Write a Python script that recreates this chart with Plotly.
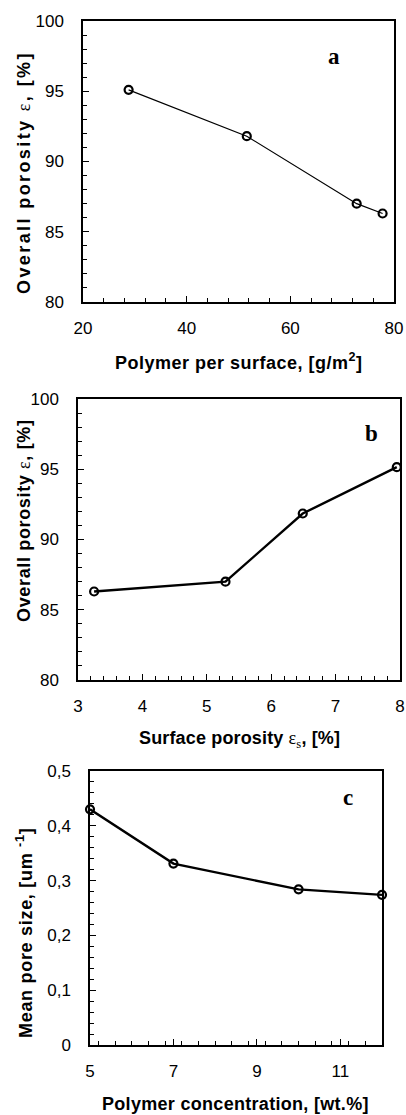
import plotly.graph_objects as go

# Panel a
a_x = [28.8, 51.6, 72.8, 77.8]
a_y = [95.1, 91.8, 87.0, 86.3]
# Panel b
b_x = [3.25, 5.29, 6.49, 7.95]
b_y = [86.3, 87.0, 91.85, 95.15]
# Panel c
c_x = [5, 7, 10, 12]
c_y = [0.43, 0.331, 0.284, 0.274]

W, H = 406, 1115
FONT = "Liberation Sans, Arial, sans-serif"
SERIF = "Liberation Serif, Times New Roman, serif"

fig = go.Figure()

def px_dom_x(l, r):
    return [l / W, r / W]

def px_dom_y(t, b):
    return [1 - b / H, 1 - t / H]

eps = "<span style='font-family:Liberation Serif;font-weight:normal'>ε</span>"
panels = [
    dict(x=a_x, y=a_y, lw=1.2, xl=83, xr_=394, yt_=21, yb=302,
         xr=[20, 80], xdt=20, xmin=4, yr=[80, 100], ydt=5, ymin=1,
         xt="Polymer per surface, [g/m<sup>2</sup>]", xls=0.5,
         yt="Overall porosity " + eps + ", [%]", ytc=173, yls=2.4,
         lab="a", lx=334, ly=56),
    dict(x=b_x, y=b_y, lw=2.4, xl=78, xr_=400, yt_=399, yb=680,
         xr=[3, 8], xdt=1, xmin=0.2, yr=[80, 100], ydt=5, ymin=1,
         xt="Surface porosity " + "<span style='font-family:Liberation Serif;font-weight:normal'>ε<sub>s</sub></span>" + ", [%]", xls=0.15,
         yt="Overall porosity " + eps + ", [%]", ytc=521, yls=0.65,
         lab="b", lx=371, ly=434),
    dict(x=c_x, y=c_y, lw=2.4, xl=90, xr_=382, yt_=771, yb=1045,
         xr=[5, 12], xdt=2, xmin=0.4, yr=[0, 0.5], ydt=0.1, ymin=0.02,
         xt="Polymer concentration, [wt.%]", xls=0.3,
         yt="Mean pore size, [um <sup>-1</sup>]", ytc=933, yls=0.7,
         lab="c", lx=348, ly=797),
]

for i, p in enumerate(panels, start=1):
    sfx = "" if i == 1 else str(i)
    fig.add_trace(go.Scatter(
        x=p["x"], y=p["y"], mode="lines+markers",
        xaxis="x" + sfx, yaxis="y" + sfx,
        line=dict(color="black", width=p["lw"]),
        marker=dict(symbol="circle-open", size=8, color="black",
                    line=dict(width=2.2, color="black")),
        showlegend=False, cliponaxis=False,
    ))
    common = dict(showline=True, linecolor="black", linewidth=1.5, mirror=True,
                  ticks="inside", ticklen=6, tickwidth=1.2, tickcolor="black",
                  showgrid=False, zeroline=False, automargin=False,
                  tickfont=dict(family=FONT, size=17, color="black"))
    minor = dict(ticks="inside", ticklen=4, tickcolor="black", tickwidth=1.2, showgrid=False)
    fig.update_layout(**{
        "xaxis" + sfx: dict(common, domain=px_dom_x(p["xl"], p["xr_"]), range=p["xr"],
                            dtick=p["xdt"], tick0=p["xr"][0], anchor="y" + sfx,
                            minor=dict(minor, dtick=p["xmin"]), ticklabelstandoff=10),
        "yaxis" + sfx: dict(common, domain=px_dom_y(p["yt_"], p["yb"]), range=p["yr"],
                            dtick=p["ydt"], tick0=p["yr"][0], anchor="x" + sfx,
                            minor=dict(minor, dtick=p["ymin"]), ticklabelstandoff=14),
    })
    # axis titles
    fig.add_annotation(text="<b><span style='letter-spacing:%spx'>%s</span></b>" % (p["xls"], p["xt"]),
                       x=(p["xl"] + p["xr_"]) / 2 / W, y=1 - (p["yb"] + 59) / H,
                       xref="paper", yref="paper", showarrow=False,
                       xanchor="center", yanchor="middle",
                       font=dict(family=FONT, size=18, color="black"))
    fig.add_annotation(text="<b><span style='letter-spacing:%spx'>%s</span></b>" % (p["yls"], p["yt"]),
                       x=24 / W, y=1 - p["ytc"] / H, textangle=-90,
                       xref="paper", yref="paper", showarrow=False,
                       xanchor="center", yanchor="middle",
                       font=dict(family=FONT, size=18, color="black"))
    fig.add_annotation(text="<b>%s</b>" % p["lab"], x=p["lx"] / W, y=1 - p["ly"] / H,
                       xref="paper", yref="paper", showarrow=False,
                       xanchor="center", yanchor="middle",
                       font=dict(family=SERIF, size=23, color="black"))

fig.update_layout(width=W, height=H, margin=dict(l=0, r=0, t=0, b=0),
                  paper_bgcolor="white", plot_bgcolor="white", separators=", ")

fig.write_html("out.html")
